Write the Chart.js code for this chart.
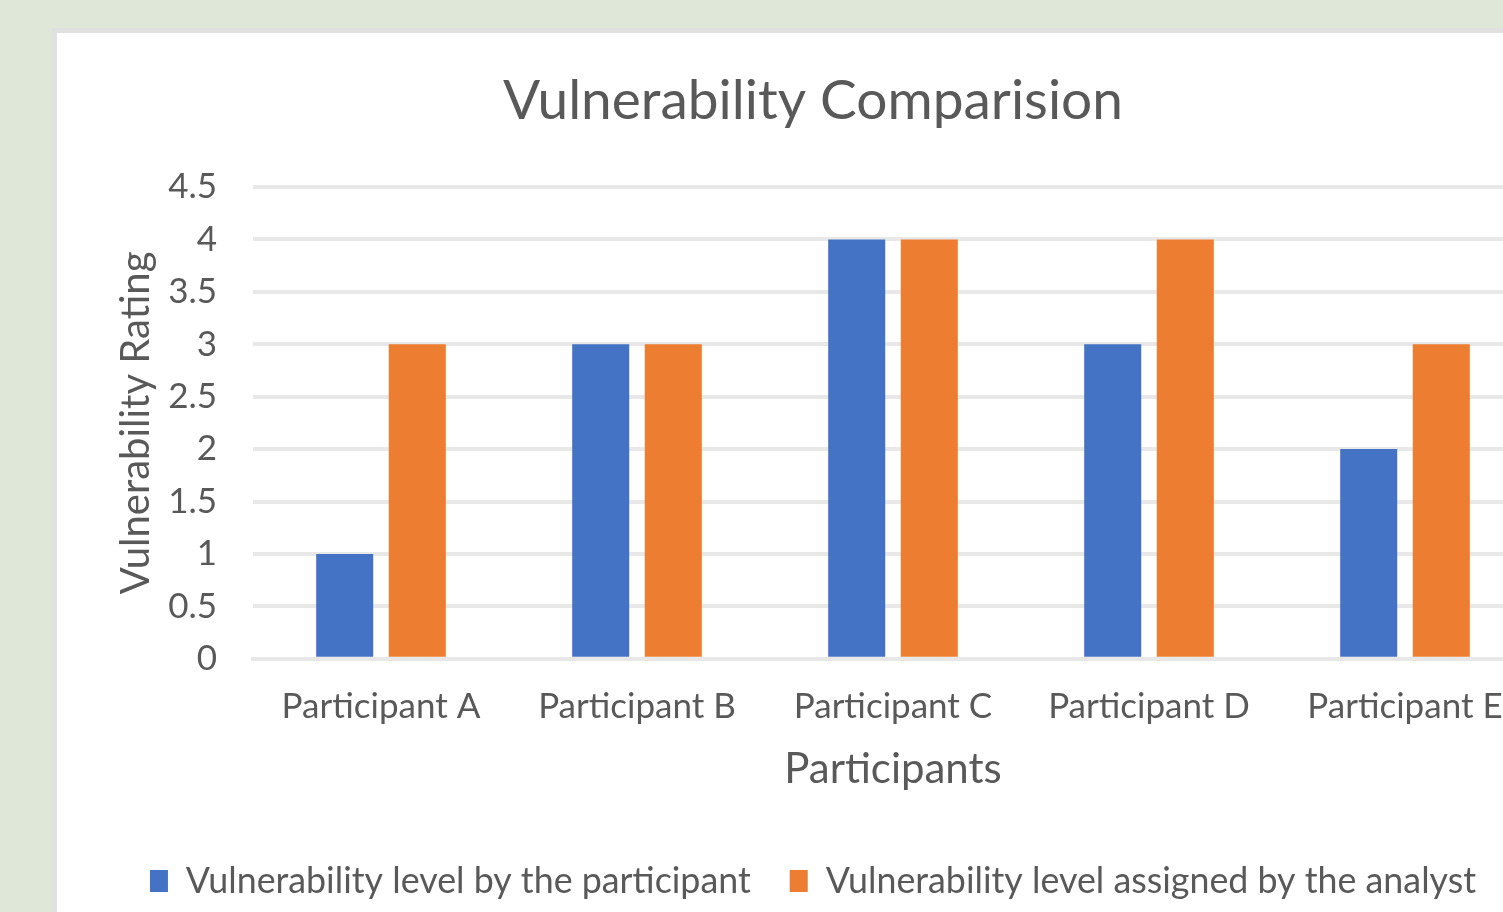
<!DOCTYPE html>
<html lang="en">
<head>
    <meta charset="UTF-8">
    <title>Vulnerability Comparision</title>
    <script src="https://cdn.jsdelivr.net/npm/chart.js"></script>
    <style>
        body {
            margin: 0;
            background: #dfe8d8;
            overflow: hidden;
            width: 1503px;
            height: 912px;
        }
        .panel {
            position: absolute;
            left: 52px;
            top: 28px;
            border-left: 5px solid #e0e0e0;
            border-top: 5px solid #e0e0e0;
            background: #ffffff;
            width: 1513px;
            height: 879px;
        }
    </style>
</head>
<body>
<div class="panel">
    <canvas id="vulnChart" width="1513" height="879"></canvas>
</div>

<script>
    const participants = ['Participant A', 'Participant B', 'Participant C', 'Participant D', 'Participant E'];
    const participantLevels = [1, 3, 4, 3, 2];
    const analystLevels = [3, 3, 4, 4, 3];
    const yTickLabels = ['0', '0.5', '1', '1.5', '2', '2.5', '3', '3.5', '4', '4.5'];

    const textColor = '#595959';
    const gridColor = '#e8e8e8';
    const fontFamily = 'Lato, "Open Sans", sans-serif';

    const chartConfig = {
        type: 'bar',
        data: {
            labels: participants,
            datasets: [{
                label: 'Vulnerability level by the participant',
                data: participantLevels,
                backgroundColor: '#4472c4',
                categoryPercentage: 0.567,
                barPercentage: 0.786
            }, {
                label: 'Vulnerability level assigned by the analyst',
                data: analystLevels,
                backgroundColor: '#ed7d31',
                categoryPercentage: 0.567,
                barPercentage: 0.786
            }]
        },
        options: {
            responsive: false,
            animation: false,
            layout: {
                padding: { left: 36, right: 37, top: 0, bottom: 3 }
            },
            plugins: {
                title: {
                    display: true,
                    text: 'Vulnerability Comparision',
                    color: textColor,
                    font: { family: fontFamily, size: 55, weight: 'normal' },
                    padding: { top: 35.5, bottom: 52.5 }
                },
                legend: {
                    position: 'bottom',
                    labels: {
                        color: textColor,
                        font: { family: fontFamily, size: 35.8 },
                        boxWidth: 18,
                        boxHeight: 22,
                        padding: 39
                    }
                },
                tooltip: { enabled: false }
            },
            scales: {
                x: {
                    grid: { display: false, drawTicks: false },
                    border: { color: gridColor, width: 4 },
                    ticks: {
                        color: textColor,
                        font: { family: fontFamily, size: 35 },
                        padding: 27,
                        maxRotation: 0
                    },
                    title: {
                        display: true,
                        text: 'Participants',
                        color: textColor,
                        font: { family: fontFamily, size: 42 },
                        padding: { top: -11, bottom: 30 }
                    }
                },
                y: {
                    min: 0,
                    max: 4.5,
                    grid: { color: gridColor, lineWidth: 4, drawTicks: false },
                    border: { display: false },
                    ticks: {
                        stepSize: 0.5,
                        color: textColor,
                        font: { family: fontFamily, size: 35 },
                        padding: 36,
                        callback: (value, index) => yTickLabels[index]
                    },
                    title: {
                        display: true,
                        text: 'Vulnerability Rating',
                        color: textColor,
                        font: { family: fontFamily, size: 40 },
                        padding: { top: 19, bottom: 0 }
                    },
                    afterFit: scale => { scale.width = 160; }
                }
            }
        }
    };

    const vulnCanvas = document.getElementById('vulnChart');
    const vulnChart = new Chart(vulnCanvas.getContext('2d'), chartConfig);
</script>
</body>
</html>
